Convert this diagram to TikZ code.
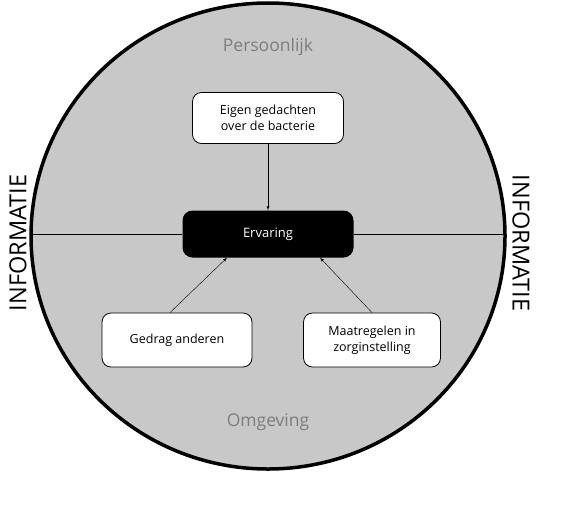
\documentclass[tikz,border=0pt]{standalone}
\usepackage{fontspec}
\setmainfont{Open Sans}
\definecolor{vlakgrijs}{RGB}{200,200,200}
\definecolor{tekstgrijs}{RGB}{125,125,125}

\begin{document}
\begin{tikzpicture}[x=1pt, y=-1pt, >=latex,
    kader/.style={draw, fill=white, rounded corners=9pt, line width=0.8pt, align=center, font=\fontsize{12.5}{15.5}\selectfont},
    kern/.style={fill=black, text=white, rounded corners=10pt, minimum width=171pt, minimum height=47pt, font=\fontsize{13}{15}\selectfont},
    zijtekst/.style={font=\fontsize{23.5}{24}\selectfont},
    vlaktekst/.style={text=tekstgrijs, font=\fontsize{17.5}{20}\selectfont}]
    \useasboundingbox (0,0) rectangle (585,506);
    \draw[fill=vlakgrijs, line width=3.5pt] (268,236) ellipse [x radius=237, y radius=233];
    \coordinate (randlinks) at (31,234);
    \coordinate (randrechts) at (505,234);
    \node (persoonlijk) at (268,47) [vlaktekst] {Persoonlijk};
    \node (omgeving) at (268,422) [vlaktekst] {Omgeving};
    \node (eigen) at (268,118) [kader, minimum width=151pt, minimum height=51pt] {Eigen gedachten\\over de bacterie};
    \node (ervaring) at (268,234) [kern] {Ervaring};
    \node (gedrag) at (177,340) [kader, minimum width=150pt, minimum height=54pt] {Gedrag anderen};
    \node (maatregelen) at (372,340) [kader, minimum width=137pt, minimum height=54pt] {Maatregelen in\\zorginstelling};
    \node (infolinks) at (18,243) [zijtekst, rotate=90] {INFORMATIE};
    \node (inforechts) at (521,243) [zijtekst, rotate=-90] {INFORMATIE};
    \draw[line width=1pt] (randlinks) -- (ervaring.west);
    \draw[line width=1pt] (ervaring.east) -- (randrechts);
    \draw[->] (eigen) -- (ervaring);
    \draw[->] ([xshift=-7pt]gedrag.north) -- ([xshift=-41pt]ervaring.south);
    \draw[->] (maatregelen.north) -- ([xshift=52pt]ervaring.south);
\end{tikzpicture}
\end{document}
